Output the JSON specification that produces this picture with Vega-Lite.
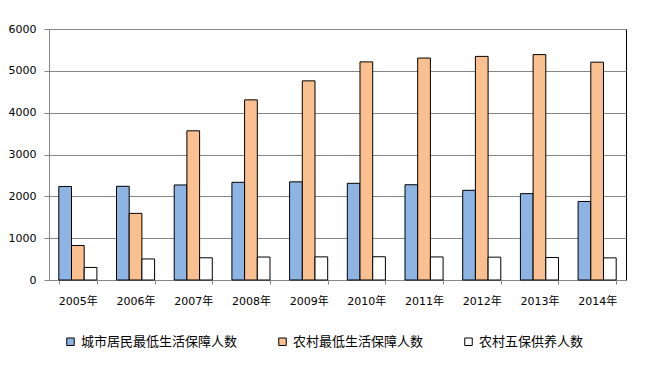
{
  "$schema": "https://vega.github.io/schema/vega-lite/v6.json",
  "width": 577,
  "height": 251,
  "autosize": {"type": "none"},
  "padding": {"left": 49, "top": 29, "right": 25, "bottom": 96},
  "background": "#ffffff",
  "config": {
    "view": {"stroke": "#000000", "strokeWidth": 1},
    "font": "DejaVu Sans, 'Noto Sans CJK SC'"
  },
  "data": {
    "values": [
      {"year": "2005年", "series": "城市居民最低生活保障人数", "value": 2234},
      {"year": "2005年", "series": "农村最低生活保障人数", "value": 825},
      {"year": "2005年", "series": "农村五保供养人数", "value": 300},
      {"year": "2006年", "series": "城市居民最低生活保障人数", "value": 2240},
      {"year": "2006年", "series": "农村最低生活保障人数", "value": 1593},
      {"year": "2006年", "series": "农村五保供养人数", "value": 503},
      {"year": "2007年", "series": "城市居民最低生活保障人数", "value": 2272},
      {"year": "2007年", "series": "农村最低生活保障人数", "value": 3566},
      {"year": "2007年", "series": "农村五保供养人数", "value": 531},
      {"year": "2008年", "series": "城市居民最低生活保障人数", "value": 2335},
      {"year": "2008年", "series": "农村最低生活保障人数", "value": 4306},
      {"year": "2008年", "series": "农村五保供养人数", "value": 549},
      {"year": "2009年", "series": "城市居民最低生活保障人数", "value": 2346},
      {"year": "2009年", "series": "农村最低生活保障人数", "value": 4760},
      {"year": "2009年", "series": "农村五保供养人数", "value": 553},
      {"year": "2010年", "series": "城市居民最低生活保障人数", "value": 2311},
      {"year": "2010年", "series": "农村最低生活保障人数", "value": 5214},
      {"year": "2010年", "series": "农村五保供养人数", "value": 556},
      {"year": "2011年", "series": "城市居民最低生活保障人数", "value": 2277},
      {"year": "2011年", "series": "农村最低生活保障人数", "value": 5306},
      {"year": "2011年", "series": "农村五保供养人数", "value": 551},
      {"year": "2012年", "series": "城市居民最低生活保障人数", "value": 2144},
      {"year": "2012年", "series": "农村最低生活保障人数", "value": 5345},
      {"year": "2012年", "series": "农村五保供养人数", "value": 546},
      {"year": "2013年", "series": "城市居民最低生活保障人数", "value": 2064},
      {"year": "2013年", "series": "农村最低生活保障人数", "value": 5388},
      {"year": "2013年", "series": "农村五保供养人数", "value": 537},
      {"year": "2014年", "series": "城市居民最低生活保障人数", "value": 1877},
      {"year": "2014年", "series": "农村最低生活保障人数", "value": 5207},
      {"year": "2014年", "series": "农村五保供养人数", "value": 529}
    ]
  },
  "mark": {"type": "bar", "stroke": "#000000", "strokeWidth": 1},
  "encoding": {
    "x": {
      "field": "year",
      "type": "nominal",
      "sort": null,
      "scale": {"paddingInner": 0.34, "paddingOuter": 0.17},
      "axis": {
        "title": null,
        "labelAngle": 0,
        "tickBand": "extent",
        "tickSize": 4,
        "tickColor": "#868686",
        "domainColor": "#868686",
        "labelFontSize": 11,
        "labelColor": "#000000",
        "labelPadding": 11,
        "labelFont": "DejaVu Sans, 'Noto Sans CJK SC'"
      }
    },
    "xOffset": {
      "field": "series",
      "type": "nominal",
      "sort": ["城市居民最低生活保障人数", "农村最低生活保障人数", "农村五保供养人数"],
      "scale": {"paddingInner": 0, "paddingOuter": 0}
    },
    "y": {
      "field": "value",
      "type": "quantitative",
      "scale": {"domain": [0, 6000], "nice": false},
      "axis": {
        "title": null,
        "values": [0, 1000, 2000, 3000, 4000, 5000, 6000],
        "format": "d",
        "tickSize": 5,
        "tickColor": "#868686",
        "domainColor": "#868686",
        "gridColor": "#868686",
        "grid": true,
        "labelFontSize": 11,
        "labelColor": "#000000",
        "labelPadding": 8,
        "labelFont": "DejaVu Sans"
      }
    },
    "fill": {
      "field": "series",
      "type": "nominal",
      "scale": {
        "domain": ["城市居民最低生活保障人数", "农村最低生活保障人数", "农村五保供养人数"],
        "range": ["#8EB4E3", "#FAC090", "#FFFFFF"]
      },
      "legend": {
        "title": null,
        "orient": "none",
        "direction": "horizontal",
        "legendX": 15,
        "legendY": 306,
        "symbolType": "square",
        "symbolSize": 56,
        "symbolStrokeColor": "#000000",
        "symbolStrokeWidth": 1,
        "labelFontSize": 13,
        "labelFont": "'Noto Sans CJK SC'",
        "labelColor": "#000000",
        "labelOffset": 4,
        "columnPadding": 38,
        "padding": 0,
        "labelLimit": 300
      }
    }
  }
}
